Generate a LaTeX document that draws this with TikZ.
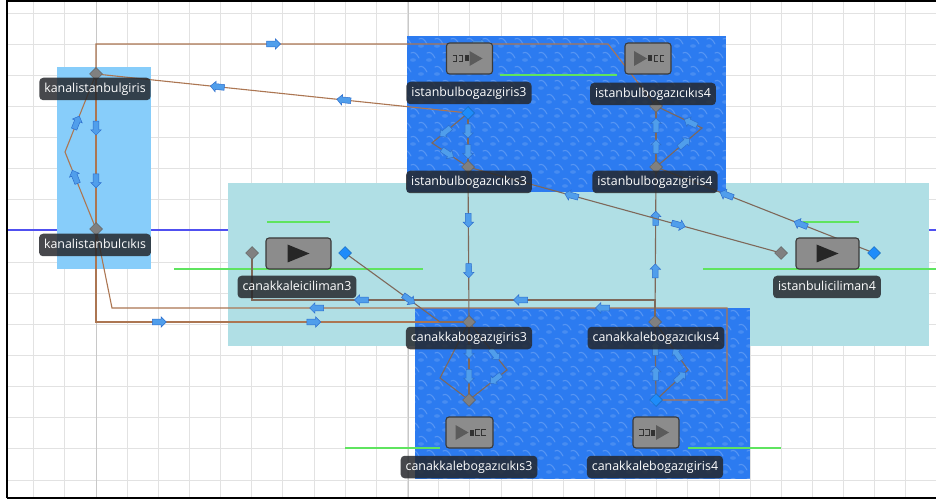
\documentclass[tikz,border=0pt]{standalone}
\usepackage{fontspec}
\setmainfont{Open Sans}
\usetikzlibrary{shapes.geometric,shapes.arrows}

\definecolor{gridminor}{RGB}{226,226,226}
\definecolor{gridmajor}{RGB}{200,200,200}
\definecolor{kanalblue}{RGB}{135,205,250}
\definecolor{seacyan}{RGB}{176,223,229}
\definecolor{water}{RGB}{44,123,240}
\definecolor{axisblue}{RGB}{80,80,240}
\definecolor{guidegreen}{RGB}{95,228,95}
\definecolor{linkouter}{RGB}{172,118,82}
\definecolor{linkinner}{RGB}{126,104,90}
\definecolor{flowfill}{RGB}{80,158,235}
\definecolor{flowedge}{RGB}{45,110,205}
\definecolor{tagfill}{RGB}{36,38,42}
\definecolor{iconfill}{RGB}{140,140,140}
\definecolor{iconedge}{RGB}{58,58,58}
\definecolor{glyphdark}{RGB}{50,50,50}
\definecolor{portgray}{RGB}{128,128,128}
\definecolor{portblue}{RGB}{30,140,250}

\pgfdeclarelayer{base}
\pgfdeclarelayer{links}
\pgfsetlayers{base,links,main}

\tikzset{
  outerlink/.style={draw=linkouter, line width=1.1pt},
  innerlink/.style={draw=linkinner, line width=1.1pt},
  flow/.style={single arrow, sloped, allow upside down, fill=flowfill, draw=flowedge,
    line width=.5pt, inner xsep=0pt, inner ysep=2.6pt, minimum height=14pt, minimum width=0pt,
    single arrow head extend=2.4pt, single arrow head indent=0pt},
  flowback/.style={flow, shape border rotate=180},
  port/.style={diamond, fill=portgray, draw=portgray!75!black, line width=.5pt,
    inner sep=0pt, minimum size=13pt},
  bport/.style={port, fill=portblue, draw=portblue!75!black},
  tag/.style={fill=tagfill, fill opacity=.84, text opacity=1, text=white,
    rounded corners=4pt, inner xsep=5pt, inner ysep=5pt, text height=9.5pt, text depth=3pt,
    font=\fontsize{12.4}{14}\selectfont},
  iconbox/.style={fill=iconfill, draw=iconedge, line width=1.1pt, rounded corners=3pt,
    minimum height=31pt, inner sep=0pt},
  guide/.style={draw=guidegreen, line width=1.1pt},
  ripple/.style={white, opacity=.2, line width=1.1pt, line cap=round},
  % glyph of an entry block: queue marks followed by a triangle
  srcglyph/.pic={
    \draw[glyphdark, line width=.9pt] (-17,-3) -- (-13,-3) -- (-13,3) -- (-17,3);
    \draw[glyphdark, line width=.9pt] (-11,-3) -- (-7,-3) -- (-7,3) -- (-11,3);
    \fill[glyphdark] (-5,-3) rectangle (-1,3);
    \fill[glyphdark!80] (0,-7.5) -- (13,0) -- (0,7.5) -- cycle;
  },
  % glyph of an exit block: triangle followed by queue marks
  snkglyph/.pic={
    \fill[glyphdark!80] (-14,-7.5) -- (-1,0) -- (-14,7.5) -- cycle;
    \fill[glyphdark] (0,-3) rectangle (4,3);
    \draw[glyphdark, line width=.9pt] (10,-3) -- (6,-3) -- (6,3) -- (10,3);
    \draw[glyphdark, line width=.9pt] (16,-3) -- (12,-3) -- (12,3) -- (16,3);
  },
  playglyph/.pic={
    \fill[black!85] (-11,-9) -- (11,0) -- (-11,9) -- cycle;
  },
}

% textured water area
\newcommand\waterpatch[4]{%
  \begin{scope}
    \clip (#1,#2) rectangle (#3,#4);
    \fill[water] (#1,#2) rectangle (#3,#4);
    \foreach \r in {0,...,12}{
      \foreach \c in {0,...,21}{
        \pgfmathsetmacro\px{#1+\c*16+mod(\r,2)*8-4}
        \pgfmathsetmacro\py{#2+\r*14+3}
        \draw[ripple] (\px,\py) .. controls (\px+3,\py-2) and (\px+6,\py+1) .. (\px+8,\py+5);
        \fill[white, opacity=.13] (\px+2,\py+7) ellipse (3 and 1.8);
      }}
  \end{scope}}

\begin{document}
\begin{tikzpicture}[x=1pt,y=-1pt]
\useasboundingbox (0,0) rectangle (936,502);

\begin{pgfonlayer}{base}
  \fill[white] (0,0) rectangle (936,502);
  % grid
  \foreach \k in {1,...,29}{
    \pgfmathsetmacro\gx{2.55+31.15*\k}
    \draw[gridminor, line width=.9pt] (\gx,1) -- (\gx,498);
  }
  \foreach \k in {0,...,15}{
    \pgfmathsetmacro\gy{13+31.13*\k}
    \draw[gridminor, line width=.9pt] (7,\gy) -- (936,\gy);
  }
  \draw[gridmajor, line width=1pt] (96,1) -- (96,498);
  \draw[gridmajor, line width=1pt] (408,1) -- (408,498);
  \draw[axisblue, line width=1.1pt] (7,230) -- (936,230);

  % areas
  \fill[kanalblue] (57,67) rectangle (151,269);
  \fill[seacyan] (228,183) rectangle (929,346);
  \waterpatch{407}{36}{726}{192}
  \waterpatch{415}{308}{750}{479}

  % guide lines
  \draw[guide] (267,222) -- (330,222);
  \draw[guide] (174,269) -- (423,269);
  \draw[guide] (500,75) -- (617,75);
  \draw[guide] (803,222) -- (859,222);
  \draw[guide] (703,269) -- (936,269);
  \draw[guide] (345,448) -- (440,448);
  \draw[guide] (688,448) -- (781,448);

  % frame
  \draw[black, line width=2pt] (7,498) -- (7,1) -- (936,1);
  \draw[black, line width=2pt] (7,498) -- (936,498);
\end{pgfonlayer}

% ports
\node[port]  (kig)    at (96,74)   {};
\node[port]  (kcx)    at (96,229)  {};
\node[bport] (ig3)    at (468,113) {};
\node[port]  (ic3)    at (468,167) {};
\node[port]  (ic4)    at (656,106) {};
\node[port]  (ig4)    at (656,167) {};
\node[port]  (ci3in)  at (252,253) {};
\node[bport] (ci3out) at (345,253) {};
\node[port]  (ii4in)  at (781,253) {};
\node[bport] (ii4out) at (874,253) {};
\node[port]  (cg3)    at (469,322) {};
\node[port]  (cc4)    at (655,322) {};
\node[port]  (cx3)    at (469,400) {};
\node[bport] (cg4)    at (656,400) {};

\begin{pgfonlayer}{links}
  % canal connections
  \draw[outerlink] (kig.center) -- (96,44) -- node[flow,pos=.344]{} node[flow,pos=.746]{} (608,44) -- (ic4.center);
  \draw[outerlink] (kig.center) -- node[flowback,pos=.33]{} node[flowback,pos=.67]{} (ig3.center);
  \draw[outerlink] (kig.center) -- node[flow,pos=.34]{} node[flow,pos=.68]{} (kcx.center);
  \draw[outerlink] (cg4.center) -- (727,400) -- (727,308)
      -- node[flow,pos=.2]{} node[flow,pos=.665]{} (112,308) -- (kcx.center)
      -- node[flow,pos=.66]{} (65,152) -- node[flow,pos=.36]{} (kig.center);
  \draw[outerlink] (kcx.center) -- (96,322) -- node[flow,pos=.166]{} node[flow,pos=.58]{} (cg3.center);

  % strait and harbour connections
  \draw[innerlink] (cc4.center) -- (655,300) -- node[flow,pos=.33]{} node[flow,pos=.725]{} (252,300) -- (ci3in.center);
  \draw[innerlink] (cc4.center) -- node[flow,pos=.32]{} node[flow,pos=.66]{} (ig4.center);
  \draw[innerlink] (ic3.center) -- node[flow,pos=.335]{} node[flow,pos=.66]{} (cg3.center);
  \draw[innerlink] (ci3out.center) -- node[flow,pos=.66]{} (440,322) -- (cg3.center);
  \draw[innerlink] (ii4out.center) -- node[flow,pos=.33]{} node[flow,pos=.67]{} (ig4.center);
  \draw[innerlink] (ic3.center) -- node[flowback,pos=.335]{} node[flow,pos=.668]{} (ii4in.center);

  % upper strait
  \draw[innerlink] (ig3.center) -- node[flow,pos=.31]{} node[flow,pos=.69]{} (ic3.center);
  \draw[innerlink] (ig3.center) -- node[flow,pos=.6]{} (432,143) -- node[flow,pos=.4]{} (ic3.center);
  \draw[innerlink] (ig4.center) -- node[flow,pos=.31]{} node[flow,pos=.66]{} (ic4.center);
  \draw[innerlink] (ig4.center) -- node[flow,pos=.59]{} (702,128) -- node[flow,pos=.22]{} (ic4.center);

  % lower strait
  \draw[innerlink] (cg3.center) -- node[flow,pos=.36]{} node[flow,pos=.68]{} (cx3.center);
  \draw[innerlink] (cg3.center) -- node[flow,pos=.65]{} (507,370) -- node[flow,pos=.27]{} (cx3.center);
  \draw[innerlink] (cg3.center) -- (440,378) -- (cx3.center);
  \draw[innerlink] (cg4.center) -- node[flow,pos=.32]{} node[flow,pos=.64]{} (cc4.center);
  \draw[innerlink] (cg4.center) -- node[flow,pos=.73]{} (688,370) -- node[flow,pos=.3]{} (cc4.center);
\end{pgfonlayer}

% block icons
\node[iconbox, minimum width=46pt] (ig3box) at (469.5,58.5) {};
\pic at (ig3box) {srcglyph};
\node[iconbox, minimum width=46pt] (ic4box) at (648,58.5) {};
\pic at (ic4box) {snkglyph};
\node[iconbox, minimum width=47pt] (cx3box) at (469.5,432.5) {};
\pic at (cx3box) {snkglyph};
\node[iconbox, minimum width=46pt] (cg4box) at (656,432.5) {};
\pic at (cg4box) {srcglyph};
\node[iconbox, minimum width=65pt] (ci3box) at (298.5,253.5) {};
\pic at (ci3box) {playglyph};
\node[iconbox, minimum width=63pt] (ii4box) at (827.5,253.5) {};
\pic at (ii4box) {playglyph};

% labels
\node[tag] (kigT) at (95,89)   {kanalistanbulgiris};
\node[tag] (kcxT) at (95,245)  {kanalistanbulcıkıs};
\node[tag] (ig3T) at (469,93)  {istanbulbogazıgiris3};
\node[tag] (ic4T) at (653,94)  {istanbulbogazıcıkıs4};
\node[tag] (ic3T) at (469,182) {istanbulbogazıcıkıs3};
\node[tag] (ig4T) at (655,182) {istanbulbogazıgiris4};
\node[tag] (ci3T) at (297,287) {canakkaleiciliman3};
\node[tag] (ii4T) at (827,287) {istanbuliciliman4};
\node[tag] (cg3T) at (469,338) {canakkabogazıgiris3};
\node[tag] (cc4T) at (656,338) {canakkalebogazıcıkıs4};
\node[tag] (cx3T) at (469,467) {canakkalebogazıcıkıs3};
\node[tag] (cg4T) at (655,467) {canakkalebogazıgiris4};
\end{tikzpicture}
\end{document}
